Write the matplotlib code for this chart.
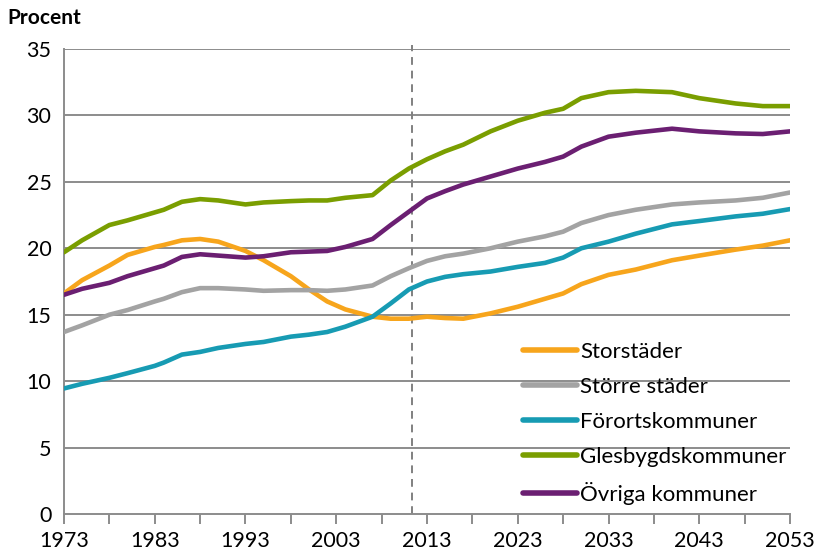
import matplotlib
matplotlib.use("Agg")
import matplotlib.pyplot as plt

plt.rcParams['font.family'] = ['Lato', 'DejaVu Sans']

# Andel av befolkningen per kommungrupp, utfall och prognos
years = [1973, 1975, 1978, 1980, 1983, 1984, 1986, 1988, 1990, 1993, 1995,
         1998, 2000, 2002, 2004, 2007, 2009, 2011, 2013, 2015, 2017, 2020,
         2023, 2026, 2028, 2030, 2033, 2036, 2040, 2043, 2047, 2050, 2053]

storstader = [16.6, 17.6, 18.7, 19.5, 20.1, 20.25, 20.6, 20.7, 20.5, 19.8, 19.1,
              17.9, 16.9, 16.0, 15.4, 14.85, 14.7, 14.7, 14.85, 14.75, 14.7, 15.1,
              15.6, 16.2, 16.6, 17.3, 18.0, 18.4, 19.1, 19.45, 19.9, 20.2, 20.6]

storre_stader = [13.7, 14.2, 15.0, 15.35, 16.0, 16.2, 16.7, 17.0, 17.0, 16.9, 16.8,
                 16.85, 16.85, 16.8, 16.9, 17.2, 17.9, 18.5, 19.05, 19.4, 19.6, 20.0,
                 20.5, 20.9, 21.25, 21.9, 22.5, 22.9, 23.3, 23.45, 23.6, 23.8, 24.2]

forortskommuner = [9.45, 9.8, 10.25, 10.6, 11.15, 11.4, 12.0, 12.2, 12.5, 12.8, 12.95,
                   13.35, 13.5, 13.7, 14.1, 14.85, 15.85, 16.9, 17.5, 17.85, 18.05, 18.25,
                   18.6, 18.9, 19.3, 20.0, 20.5, 21.1, 21.8, 22.05, 22.4, 22.6, 22.95]

glesbygd = [19.7, 20.6, 21.75, 22.1, 22.7, 22.9, 23.5, 23.7, 23.6, 23.3, 23.45,
            23.55, 23.6, 23.6, 23.8, 24.0, 25.1, 26.0, 26.7, 27.3, 27.8, 28.8,
            29.6, 30.2, 30.5, 31.3, 31.75, 31.85, 31.75, 31.3, 30.9, 30.7, 30.7]

ovriga = [16.5, 16.95, 17.4, 17.9, 18.5, 18.7, 19.35, 19.55, 19.45, 19.3, 19.4,
          19.7, 19.75, 19.8, 20.1, 20.7, 21.75, 22.75, 23.75, 24.3, 24.8, 25.4,
          26.0, 26.5, 26.9, 27.65, 28.4, 28.7, 29.0, 28.8, 28.65, 28.6, 28.8]

series = [
    ("Storstäder", storstader, "#F7A51C"),
    ("Större städer", storre_stader, "#A3A3A3"),
    ("Förortskommuner", forortskommuner, "#179BB3"),
    ("Glesbygdskommuner", glesbygd, "#7A9E00"),
    ("Övriga kommuner", ovriga, "#6B1F72"),
]

prognos_start = 2011.4

fig = plt.figure(figsize=(8.18, 5.56), dpi=100)
ax = fig.add_axes([0.0782, 0.0755, 0.8876, 0.8364])

grid_col = "#8C8C8C"
for v in range(5, 36, 5):
    ax.axhline(v, color=grid_col, lw=1.4, zorder=1)

ax.plot([prognos_start, prognos_start], [0, 35.3], color="#808080", lw=1.4,
        ls=(0, (4, 3)), zorder=1, clip_on=False)

for name, vals, col in series:
    ax.plot(years, vals, color=col, lw=3.3, label=name, zorder=3,
            solid_capstyle="round", solid_joinstyle="round")

ax.set_xlim(1973, 2053)
ax.set_ylim(0, 35)
ax.set_yticks(range(0, 36, 5))
ax.set_xticks(range(1973, 2054, 10))
ax.set_xticks(range(1973, 2054, 5), minor=True)

for side in ["top", "right"]:
    ax.spines[side].set_visible(False)
for side in ["left", "bottom"]:
    ax.spines[side].set_color(grid_col)
    ax.spines[side].set_linewidth(1.4)

ax.tick_params(axis="y", length=0, labelsize=15.5, pad=9)
ax.tick_params(axis="x", which="both", length=7, width=1.4, color=grid_col,
               labelsize=15.5, pad=5)

fig.text(0.009, 0.967, "Procent", fontsize=15, fontweight="bold", va="center")

leg = ax.legend(loc="lower left", bbox_to_anchor=(0.62, 0.0), frameon=False,
                fontsize=16, handlelength=2.45, handletextpad=0.12,
                labelspacing=0.68, borderaxespad=0.2, borderpad=0.2)
for line in leg.get_lines():
    line.set_linewidth(4)

fig.savefig("out.png", dpi=100)
